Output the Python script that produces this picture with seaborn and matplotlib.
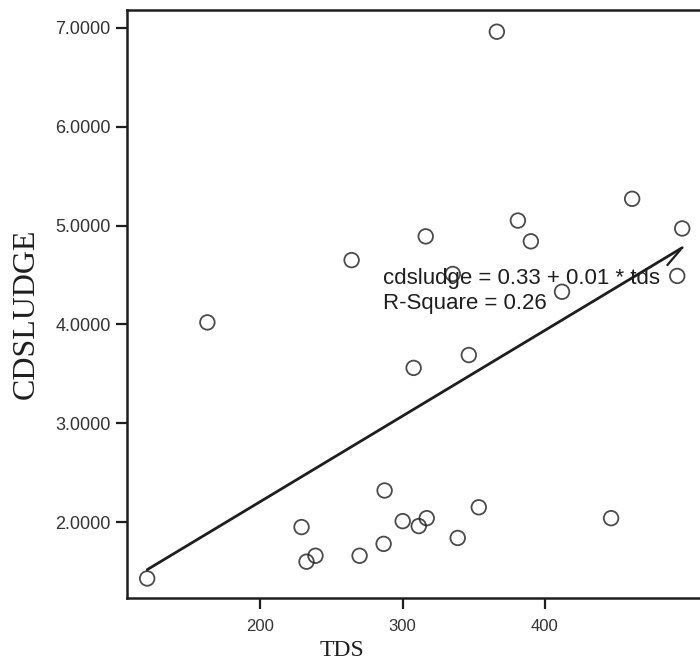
import numpy as np
import pandas as pd
import matplotlib
matplotlib.use("Agg")
import matplotlib.pyplot as plt
from matplotlib.ticker import FormatStrFormatter
import seaborn as sns

# values
tds = [120.4, 162.7, 228.9, 232.4, 238.7, 264.1, 269.7, 286.6, 287.3, 300.0,
       307.7, 311.3, 316.2, 316.9, 335.2, 338.7, 346.5, 353.5, 366.2, 381.0,
       390.1, 412.0, 446.5, 461.3, 493.0, 496.5]
cdsludge = [1.43, 4.02, 1.95, 1.60, 1.66, 4.65, 1.66, 1.78, 2.32, 2.01,
            3.56, 1.96, 4.89, 2.04, 4.51, 1.84, 3.69, 2.15, 6.96, 5.05,
            4.84, 4.33, 2.04, 5.27, 4.49, 4.97]
x_ticks = [200, 300, 400]
y_ticks = [2, 3, 4, 5, 6, 7]
eq_text = "cdsludge = 0.33 + 0.01 * tds\nR-Square = 0.26"

df = pd.DataFrame({"TDS": tds, "CDSLUDGE": cdsludge})

sns.set_style("ticks")
plt.rcParams["font.family"] = ["Liberation Sans", "DejaVu Sans"]
ink = "#1e1e1e"

fig = plt.figure(figsize=(7, 6.64), dpi=100)
ax = fig.add_axes([0.181, 0.099, 0.819, 0.886])

sns.regplot(data=df, x="TDS", y="CDSLUDGE", ci=None, ax=ax, truncate=True,
            scatter_kws={"s": 110, "facecolors": "none", "edgecolors": ink,
                         "linewidths": 1.3},
            line_kws={"color": ink, "lw": 2})

# small connector stroke at the end of the fit line
b, a = np.polyfit(tds, cdsludge, 1)
x_end = max(tds)
ax.annotate("", xy=(x_end, a + b * x_end), xytext=(-12, -14),
            textcoords="offset points",
            arrowprops=dict(arrowstyle="-", color=ink, lw=1.6))

ax.text(0.447, 0.522, eq_text, transform=ax.transAxes, fontsize=16,
        color=ink, linespacing=1.25, va="center", ha="left")

ax.set_xlim(106, 509)
ax.set_ylim(1.23, 7.18)
ax.set_xticks(x_ticks)
ax.set_yticks(y_ticks)
ax.yaxis.set_major_formatter(FormatStrFormatter("%.4f"))
ax.tick_params(axis="both", direction="out", length=8, width=1.6,
               colors=ink, labelcolor="#333333")
ax.tick_params(axis="y", labelsize=13)
ax.tick_params(axis="x", labelsize=12, pad=7)

for side in ["left", "bottom", "top"]:
    ax.spines[side].set_color(ink)
    ax.spines[side].set_linewidth(1.8)
ax.spines["right"].set_visible(False)

ax.set_xlabel("TDS", fontsize=17, family="Liberation Serif", color=ink)
ax.set_ylabel("CDSLUDGE", fontsize=23, family="Liberation Serif", color=ink)
ax.xaxis.set_label_coords(0.375, -0.088)
ax.yaxis.set_label_coords(-0.175, 0.484)
ax.xaxis.label.set_va("center")
ax.yaxis.label.set_va("center")

fig.savefig("out.png", dpi=100, facecolor="white")
